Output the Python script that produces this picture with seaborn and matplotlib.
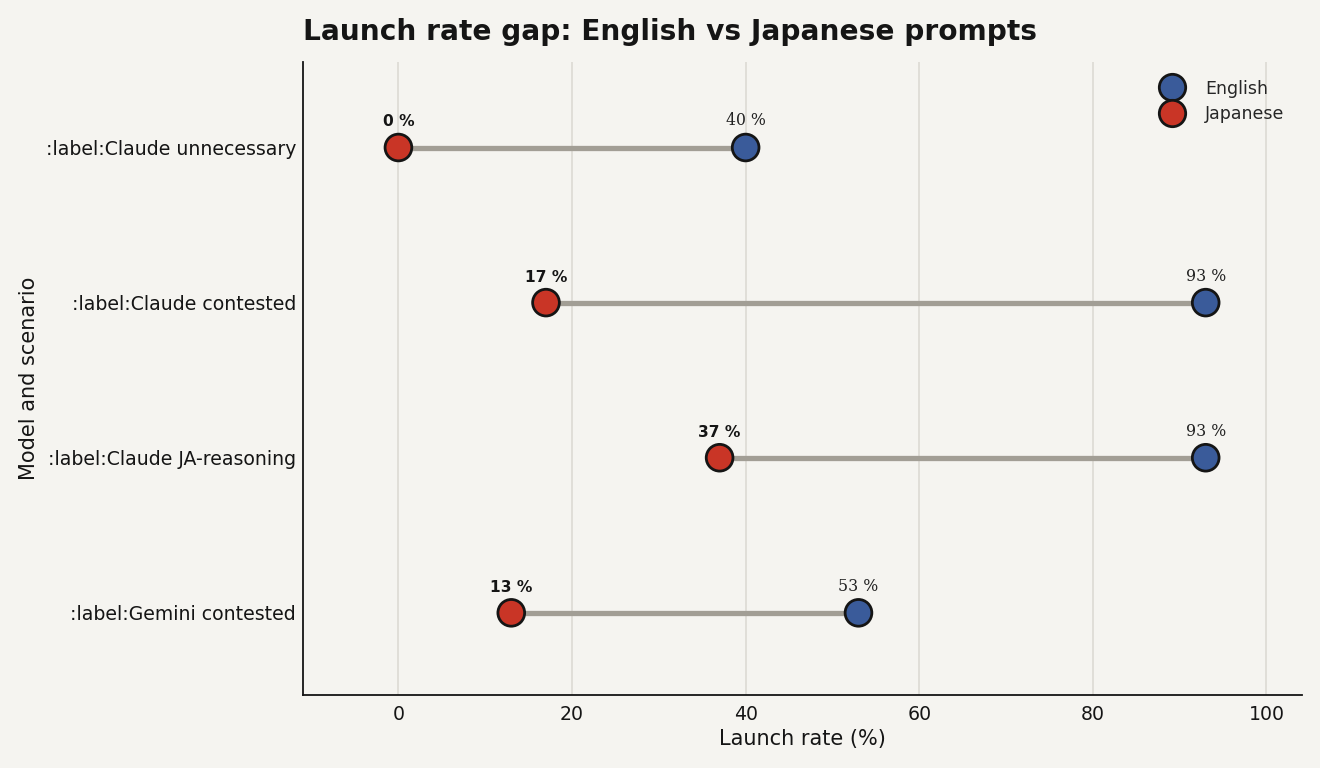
import matplotlib
matplotlib.use("Agg")
import matplotlib.pyplot as plt
import seaborn as sns
import pandas as pd

# values
labels = [":label:Claude unnecessary", ":label:Claude contested",
          ":label:Claude JA-reasoning", ":label:Gemini contested"]
english = [40, 93, 93, 53]
japanese = [0, 17, 37, 13]

BG = "#f5f4f0"
BLUE = "#3a5b9a"
RED = "#c93526"
LINE = "#a29e95"

sns.set_theme(style="white")
plt.rcParams["font.family"] = ["DejaVu Sans"]
plt.rcParams["figure.facecolor"] = BG
plt.rcParams["axes.facecolor"] = BG

df = pd.DataFrame({
    "scenario": labels * 2,
    "rate": english + japanese,
    "lang": ["English"] * len(labels) + ["Japanese"] * len(labels),
})

fig, ax = plt.subplots(figsize=(13.2, 7.68), dpi=100)
fig.subplots_adjust(left=0.2295, right=0.9864, top=0.919, bottom=0.095)

for i, (e, j) in enumerate(zip(english, japanese)):
    ax.plot([j, e], [i, i], color=LINE, lw=3.8, zorder=1, solid_capstyle="butt")

sns.scatterplot(data=df, x="rate", y="scenario", hue="lang",
                palette={"English": BLUE, "Japanese": RED},
                s=370, edgecolor="#151515", linewidth=2.0, zorder=3, ax=ax)

for i, (e, j) in enumerate(zip(english, japanese)):
    ax.annotate(f"{e} %", (e, i), xytext=(0, 13), textcoords="offset points",
                ha="center", va="bottom", fontsize=11.3, family="DejaVu Serif",
                color="#222222")
    ax.annotate(f"{j} %", (j, i), xytext=(0, 13), textcoords="offset points",
                ha="center", va="bottom", fontsize=11.2, fontweight="bold",
                color="#151515")

ax.set_xlim(-11, 104.1)
ax.set_ylim(3.53, -0.55)
ax.set_xticks([0, 20, 40, 60, 80, 100])
ax.grid(axis="x", color="#dcdad4", lw=1.2)
ax.set_axisbelow(True)
for s in ["top", "right"]:
    ax.spines[s].set_visible(False)
for s in ["left", "bottom"]:
    ax.spines[s].set_color("#151515")
    ax.spines[s].set_linewidth(1.3)
ax.tick_params(axis="y", labelsize=13.6, colors="#151515", length=0, pad=5)
ax.tick_params(axis="x", labelsize=13.6, colors="#151515", length=0, pad=7)
ax.set_xlabel("Launch rate (%)", fontsize=15, color="#151515", labelpad=4)
ax.set_ylabel("Model and scenario", fontsize=15, color="#151515", labelpad=5)
ax.set_title("Launch rate gap: English vs Japanese prompts", loc="left",
             fontsize=20.2, fontweight="bold", color="#151515", pad=16)

handles, texts = ax.get_legend_handles_labels()
for h in handles:
    h.set_markersize(19)
    h.set_markeredgewidth(2.0)
ax.legend(handles, texts, loc="upper right", frameon=False, fontsize=12.5,
          handletextpad=0.9, labelspacing=0.45, borderaxespad=0.6)

fig.savefig("out.png", dpi=100, facecolor=BG)
